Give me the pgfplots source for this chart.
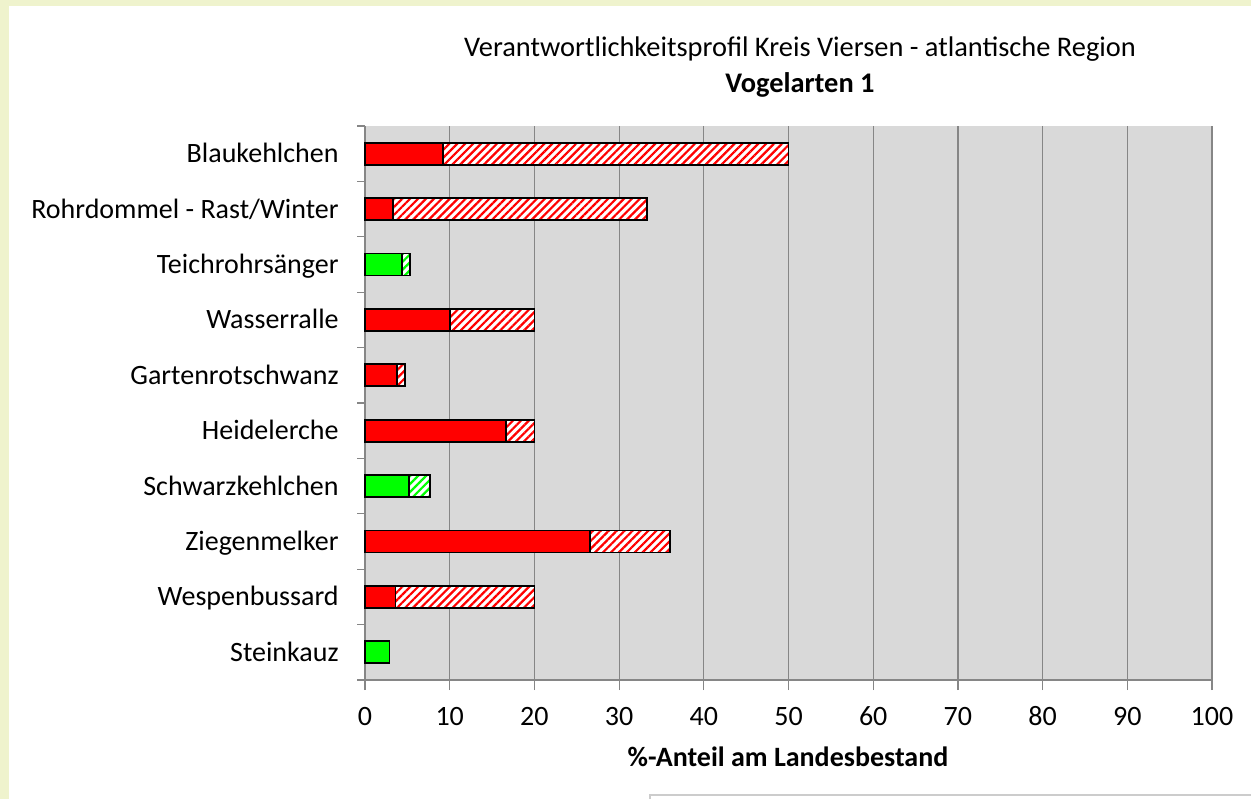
\documentclass[border=0pt]{standalone}
\usepackage{pgfplots}
\pgfplotsset{compat=1.18}
\usepackage{pgfplotstable}
\usepackage{fontspec}
\setmainfont{Carlito}
\usetikzlibrary{patterns.meta}
\definecolor{bgyellow}{RGB}{239,243,205}
\definecolor{plotgray}{RGB}{217,217,217}
\definecolor{gridgray}{RGB}{134,134,134}
\definecolor{xred}{RGB}{255,0,0}
\definecolor{xgreen}{RGB}{0,255,0}
\pgfplotstableread{
y solid total
9 9.2 50.0
8 3.3 33.3
6 10.0 20.0
5 3.8 4.7
4 16.6 20.0
2 26.6 36.0
1 3.6 20.0
}\redtab
\pgfplotstableread{
y solid total
7 4.4 5.3
3 5.2 7.7
0 2.9 2.9
}\greentab
\begin{document}
\begin{tikzpicture}[x=1pt,y=1pt]
\path[use as bounding box, fill=bgyellow] (0,0) rectangle (625.5,399.5);
\fill[white] (4.5,0) rectangle (625.5,396.5);
\draw[gray!40, line width=0.6pt] (325,0) -- (325,2) -- (625.5,2);
\begin{axis}[
 at={(182.5pt,59.5pt)}, anchor=south west,
 scale only axis, width=423.5pt, height=277pt,
 xbar, bar width=11pt, bar shift=0pt,
 xmin=0, xmax=100, ymin=-0.5, ymax=9.5,
 axis background/.style={fill=plotgray},
 axis x line*=bottom, axis y line*=left,
 axis line style={gridgray, line width=0.6pt},
 xtick={0,10,...,100}, xmajorgrids,
 major grid style={gridgray, line width=0.6pt},
 ytick={0,...,9},
 yticklabels={Steinkauz, Wespenbussard, Ziegenmelker, Schwarzkehlchen, Heidelerche, Gartenrotschwanz, Wasserralle, Teichrohrsänger, Rohrdommel - Rast/Winter, Blaukehlchen},
 minor ytick={-0.5,0.5,...,9.5},
 tick align=outside,
 major tick length=5pt, minor tick length=4pt,
 tick style={gridgray, line width=0.6pt},
 major y tick style={draw=none},
 /pgf/number format/assume math mode=true,
 ticklabel style={font=\fontsize{14}{17}\selectfont, inner sep=0pt},
 xticklabel style={anchor=base, yshift=-17.5pt},
 yticklabel style={anchor=base east, xshift=-8pt, yshift=-4.5pt},
 clip=false,
]
\addplot[bar shift=0pt, draw=black, line width=0.9pt, fill=white,
  postaction={pattern color=xred, pattern={Lines[angle=45,distance=2.8pt,line width=1.1pt]}}]
  table[x=total,y=y]{\redtab};
\addplot[bar shift=0pt, draw=black, line width=0.9pt, fill=white,
  postaction={pattern color=xgreen, pattern={Lines[angle=45,distance=2.8pt,line width=1.1pt]}}]
  table[x=total,y=y]{\greentab};
\addplot[bar shift=0pt, draw=black, line width=0.9pt, fill=xred]
  table[x=solid,y=y]{\redtab};
\addplot[bar shift=0pt, draw=black, line width=0.9pt, fill=xgreen]
  table[x=solid,y=y]{\greentab};
\end{axis}
\node[anchor=base, font=\fontsize{14.2}{17}\selectfont, inner sep=0pt] at (400,371) {Verantwortlichkeitsprofil Kreis Viersen - atlantische Region};
\node[anchor=base, font=\fontsize{14.2}{17}\selectfont\bfseries, inner sep=0pt] at (400,353) {Vogelarten 1};
\node[anchor=base, font=\fontsize{14}{17}\selectfont\bfseries, inner sep=0pt] at (394,16.5) {\%-Anteil am Landesbestand};
\end{tikzpicture}
\end{document}
